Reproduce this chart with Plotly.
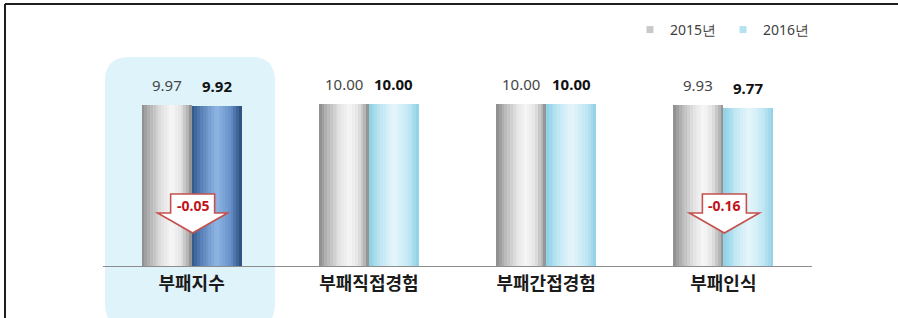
import plotly.graph_objects as go

# ---------------- data ----------------
categories = ["부패지수", "부패직접경험", "부패간접경험", "부패인식"]
values_2015 = [9.97, 10.00, 10.00, 9.93]
values_2016 = [9.92, 10.00, 10.00, 9.77]
series_names = ["2015년", "2016년"]

# ---------------- layout geometry (pixels) ----------------
W, H = 898, 318
L, R, T, B = 103, 86, 72, 52
PW, PH = W - L - R, H - T - B
Y_MAX = 12.0


def px(x):
    return (x - L) / PW


def py(y):
    return 1 - (y - T) / PH


def hex2rgb(h):
    h = h.lstrip("#")
    return [int(h[i:i + 2], 16) for i in (0, 2, 4)]


def grad(stops, t):
    for (t0, c0), (t1, c1) in zip(stops, stops[1:]):
        if t0 <= t <= t1:
            f = (t - t0) / (t1 - t0) if t1 > t0 else 0
            a, b = hex2rgb(c0), hex2rgb(c1)
            return "rgb(%d,%d,%d)" % tuple(round(a[i] + (b[i] - a[i]) * f) for i in range(3))
    return stops[-1][1]


grey_stops = [(0, "#8a8a8a"), (0.15, "#b2b2b2"), (0.4, "#e2e2e2"), (0.6, "#f7f7f7"),
              (0.78, "#e4e4e4"), (0.92, "#b4b4b4"), (1, "#858585")]
light_stops = [(0, "#8ccfe5"), (0.25, "#c2e8f4"), (0.5, "#e6f6fb"), (0.78, "#c4e9f5"), (1, "#8fd0e6")]
dark_stops = [(0, "#2f5486"), (0.2, "#5a83ba"), (0.5, "#8fb6e3"), (0.78, "#6690c8"), (1, "#294a7a")]

highlight_idx = 0
N = 18
bw = 50 / (PW / 4)  # bar width in category units
sw = bw / N

fig = go.Figure()
x_idx = list(range(len(categories)))

for s, vals in enumerate([values_2015, values_2016]):
    start = -bw if s == 0 else 0.0
    for k in range(N):
        t = (k + 0.5) / N
        if s == 0:
            colors = [grad(grey_stops, t)] * len(categories)
        else:
            colors = [grad(dark_stops, t) if i == highlight_idx else grad(light_stops, t)
                      for i in x_idx]
        w = sw * 1.08 if k < N - 1 else sw
        fig.add_trace(go.Bar(
            x=x_idx, y=vals, width=[w] * len(x_idx), offset=[start + k * sw] * len(x_idx),
            marker=dict(color=colors, line=dict(width=0)),
            showlegend=False, hoverinfo="skip"))

# legend entries
fig.add_trace(go.Scatter(x=[None], y=[None], name=series_names[0], mode="markers",
                         marker=dict(symbol="square", size=7, color="#c9c9c9")))
fig.add_trace(go.Scatter(x=[None], y=[None], name=series_names[1], mode="markers",
                         marker=dict(symbol="square", size=7, color="#b5e2f0")))

annotations = []
for i in x_idx:
    annotations.append(dict(x=i - bw / 2, y=values_2015[i], xref="x", yref="y",
                            text="%.2f" % values_2015[i], showarrow=False,
                            xanchor="center", yanchor="bottom", yshift=8,
                            font=dict(family="Noto Sans", size=15, color="#454545")))
    annotations.append(dict(x=i + bw / 2, y=values_2016[i], xref="x", yref="y",
                            text="<b>%.2f</b>" % values_2016[i], showarrow=False,
                            xanchor="center", yanchor="bottom", yshift=8,
                            font=dict(family="Noto Sans", size=15, color="#111111")))

shapes = []
# highlight rounded box behind first category
x0, x1, y0, y1, r = 105, 275, 57, 328, 24
path = ("M {a},{b} L {c},{b} Q {d},{b} {d},{e} L {d},{f} Q {d},{g} {c},{g} "
        "L {a},{g} Q {h},{g} {h},{f} L {h},{e} Q {h},{b} {a},{b} Z").format(
    a=px(x0 + r), b=py(y0), c=px(x1 - r), d=px(x1), e=py(y0 + r),
    f=py(y1 - r), g=py(y1), h=px(x0))
shapes.append(dict(type="path", xref="paper", yref="paper", path=path,
                   fillcolor="#dff3fa", line=dict(width=0), layer="below"))

# change arrows
for i in x_idx:
    diff = round(values_2016[i] - values_2015[i], 2)
    if diff < 0:
        cx = L + (i + 0.5) * PW / 4 + 1
        pts = [(cx - 22, 194), (cx + 22, 194), (cx + 22, 213), (cx + 35, 213),
               (cx, 233), (cx - 35, 213), (cx - 22, 213)]
        p = "M" + "L".join("%.5f,%.5f" % (px(a), py(b)) for a, b in pts) + "Z"
        shapes.append(dict(type="path", xref="paper", yref="paper", path=p,
                           fillcolor="white", opacity=1,
                           line=dict(color="#c5504e", width=1.6), layer="above"))
        annotations.append(dict(x=px(cx), y=py(205), xref="paper", yref="paper",
                                xanchor="center", yanchor="middle",
                                text="<b>%.2f</b>" % diff, showarrow=False,
                                font=dict(family="Noto Sans", size=14, color="#c0141c")))

# frame lines
shapes.append(dict(type="line", xref="paper", yref="paper", x0=px(5), x1=px(898),
                   y0=py(4), y1=py(4), line=dict(color="#1e1e1e", width=2)))
shapes.append(dict(type="line", xref="paper", yref="paper", x0=px(5), x1=px(5),
                   y0=py(4), y1=py(330), line=dict(color="#1e1e1e", width=2)))

fig.update_layout(
    width=W, height=H,
    margin=dict(l=L, r=R, t=T, b=B, autoexpand=False),
    paper_bgcolor="white", plot_bgcolor="rgba(0,0,0,0)",
    barmode="overlay", bargap=0,
    xaxis=dict(range=[-0.5, 3.5], tickvals=x_idx, ticktext=categories,
               showgrid=False, zeroline=False, showline=True, linecolor="#8c8c8c",
               linewidth=1, ticks="", fixedrange=True,
               tickfont=dict(family="Noto Sans CJK KR", size=18, color="#1a1a1a"),
               ticklabelstandoff=1),
    yaxis=dict(range=[0, Y_MAX], visible=False, fixedrange=True),
    legend=dict(orientation="h", x=px(630), xanchor="left", y=py(30), yanchor="middle",
                font=dict(family="Noto Sans", size=14, color="#404040"),
                bgcolor="rgba(0,0,0,0)", itemwidth=30, traceorder="normal",
                entrywidth=48, entrywidthmode="pixels"),
    shapes=shapes, annotations=annotations,
    font=dict(family="Noto Sans CJK KR"),
)
fig.update_xaxes(tickfont_weight="bold")

fig.write_html("out.html", config={"displayModeBar": False},
               post_script="document.body.style.margin='0';document.body.style.overflow='hidden';")
